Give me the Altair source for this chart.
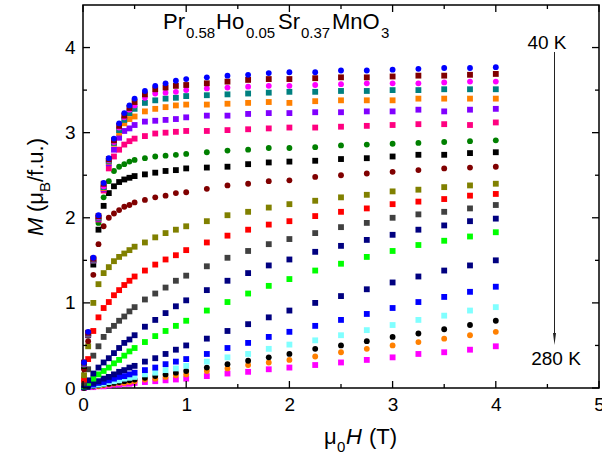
import altair as alt
import pandas as pd

# ---------------- data ----------------
H = [0.01, 0.05, 0.1, 0.15, 0.2, 0.25, 0.3, 0.35, 0.4, 0.45, 0.5, 0.6, 0.7, 0.8, 0.9, 1.0,
     1.2, 1.4, 1.6, 1.8, 2.0, 2.25, 2.5, 2.75, 3.0, 3.25, 3.5, 3.75, 4.0]

temps = ["40 K", "60 K", "80 K", "100 K", "110 K", "120 K", "130 K", "140 K", "150 K",
         "160 K", "170 K", "180 K", "190 K", "200 K", "210 K", "220 K", "230 K",
         "240 K", "250 K", "260 K", "280 K"]
colors = ["#0000FF", "#800000", "#FF00FF", "#008080", "#FF8000", "#8000FF", "#FF0080",
          "#008000", "#000000", "#800000", "#808000", "#FF0000", "#404040", "#000080",
          "#00FF00", "#000080", "#0000FF", "#80FFFF", "#000000", "#FF8000", "#FF00FF"]
shapes = ["circle", "square", "circle", "square", "square", "square", "square",
          "circle", "square", "circle", "square", "square", "square", "square",
          "square", "square", "square", "square", "circle", "circle", "square"]

M_040 = [0.30, 0.66, 1.53, 2.03, 2.41, 2.70, 2.93, 3.11, 3.23, 3.32, 3.40, 3.49, 3.55, 3.58, 3.61, 3.63, 3.65, 3.67, 3.68, 3.70, 3.71, 3.71, 3.73, 3.73, 3.74, 3.75, 3.76, 3.76, 3.77]
M_060 = [0.30, 0.65, 1.52, 2.02, 2.40, 2.69, 2.91, 3.08, 3.20, 3.29, 3.36, 3.45, 3.51, 3.53, 3.55, 3.56, 3.58, 3.60, 3.62, 3.63, 3.63, 3.64, 3.65, 3.65, 3.66, 3.67, 3.67, 3.68, 3.69]
M_080 = [0.30, 0.65, 1.52, 2.01, 2.37, 2.68, 2.89, 3.06, 3.18, 3.27, 3.32, 3.41, 3.46, 3.47, 3.48, 3.50, 3.52, 3.53, 3.54, 3.55, 3.55, 3.56, 3.57, 3.58, 3.58, 3.58, 3.59, 3.60, 3.60]
M_100 = [0.29, 0.64, 1.51, 2.00, 2.36, 2.67, 2.88, 3.03, 3.15, 3.23, 3.28, 3.35, 3.38, 3.40, 3.41, 3.43, 3.44, 3.45, 3.46, 3.47, 3.48, 3.48, 3.49, 3.49, 3.50, 3.50, 3.51, 3.51, 3.51]
M_110 = [0.29, 0.64, 1.51, 2.00, 2.35, 2.66, 2.87, 3.00, 3.11, 3.16, 3.19, 3.25, 3.28, 3.30, 3.32, 3.33, 3.33, 3.34, 3.35, 3.36, 3.35, 3.37, 3.38, 3.38, 3.38, 3.40, 3.40, 3.40, 3.40]
M_120 = [0.28, 0.63, 1.50, 1.99, 2.34, 2.64, 2.80, 2.94, 3.02, 3.05, 3.09, 3.13, 3.14, 3.15, 3.16, 3.18, 3.20, 3.20, 3.22, 3.23, 3.23, 3.24, 3.24, 3.25, 3.25, 3.27, 3.25, 3.27, 3.28]
M_130 = [0.28, 0.63, 1.50, 1.98, 2.32, 2.58, 2.72, 2.80, 2.86, 2.90, 2.93, 2.96, 2.99, 3.00, 3.01, 3.02, 3.02, 3.03, 3.04, 3.05, 3.06, 3.06, 3.07, 3.08, 3.09, 3.10, 3.10, 3.09, 3.12]
M_140 = [0.27, 0.62, 1.49, 1.94, 2.24, 2.43, 2.55, 2.60, 2.63, 2.66, 2.68, 2.70, 2.72, 2.73, 2.74, 2.75, 2.77, 2.79, 2.80, 2.82, 2.82, 2.83, 2.85, 2.86, 2.87, 2.88, 2.89, 2.90, 2.91]
M_150 = [0.26, 0.62, 1.45, 1.86, 2.14, 2.29, 2.37, 2.42, 2.45, 2.47, 2.49, 2.51, 2.53, 2.55, 2.56, 2.58, 2.59, 2.60, 2.63, 2.65, 2.66, 2.67, 2.69, 2.70, 2.72, 2.74, 2.74, 2.76, 2.77]
M_160 = [0.22, 0.55, 1.33, 1.69, 1.90, 2.00, 2.05, 2.09, 2.13, 2.15, 2.18, 2.21, 2.24, 2.26, 2.29, 2.30, 2.34, 2.38, 2.40, 2.43, 2.44, 2.48, 2.50, 2.52, 2.54, 2.56, 2.58, 2.59, 2.60]
M_170 = [0.15, 0.49, 1.00, 1.22, 1.35, 1.42, 1.49, 1.54, 1.58, 1.62, 1.66, 1.71, 1.77, 1.82, 1.86, 1.90, 1.96, 2.03, 2.07, 2.12, 2.16, 2.20, 2.24, 2.27, 2.31, 2.33, 2.36, 2.38, 2.40]
M_180 = [0.10, 0.34, 0.67, 0.83, 0.94, 1.01, 1.09, 1.15, 1.21, 1.26, 1.31, 1.38, 1.45, 1.51, 1.56, 1.62, 1.71, 1.79, 1.86, 1.92, 1.96, 2.02, 2.07, 2.11, 2.16, 2.19, 2.22, 2.26, 2.28]
M_190 = [0.06, 0.22, 0.38, 0.49, 0.60, 0.68, 0.73, 0.79, 0.84, 0.90, 0.95, 1.04, 1.11, 1.18, 1.26, 1.32, 1.43, 1.53, 1.61, 1.69, 1.75, 1.82, 1.89, 1.94, 2.00, 2.04, 2.07, 2.11, 2.15]
M_200 = [0.03, 0.09, 0.17, 0.24, 0.30, 0.35, 0.41, 0.47, 0.53, 0.57, 0.62, 0.72, 0.80, 0.88, 0.96, 1.03, 1.15, 1.26, 1.35, 1.44, 1.51, 1.60, 1.67, 1.74, 1.80, 1.86, 1.91, 1.96, 1.99]
M_210 = [0.02, 0.06, 0.11, 0.16, 0.20, 0.24, 0.29, 0.33, 0.38, 0.43, 0.47, 0.54, 0.61, 0.67, 0.73, 0.79, 0.91, 1.01, 1.11, 1.20, 1.28, 1.38, 1.46, 1.54, 1.61, 1.68, 1.73, 1.78, 1.83]
M_220 = [0.01, 0.03, 0.06, 0.08, 0.11, 0.13, 0.16, 0.19, 0.21, 0.24, 0.26, 0.31, 0.35, 0.40, 0.45, 0.50, 0.58, 0.67, 0.75, 0.83, 0.91, 1.00, 1.08, 1.16, 1.24, 1.31, 1.38, 1.44, 1.50]
M_230 = [0.01, 0.02, 0.04, 0.06, 0.07, 0.09, 0.11, 0.13, 0.14, 0.16, 0.18, 0.21, 0.24, 0.28, 0.31, 0.34, 0.40, 0.47, 0.53, 0.60, 0.66, 0.73, 0.80, 0.87, 0.94, 1.01, 1.07, 1.13, 1.19]
M_240 = [0.01, 0.02, 0.03, 0.04, 0.05, 0.07, 0.08, 0.09, 0.11, 0.12, 0.13, 0.16, 0.18, 0.21, 0.23, 0.26, 0.31, 0.36, 0.40, 0.46, 0.51, 0.56, 0.62, 0.68, 0.74, 0.80, 0.85, 0.91, 0.95]
M_250 = [0.00, 0.01, 0.02, 0.03, 0.04, 0.05, 0.06, 0.07, 0.08, 0.09, 0.10, 0.12, 0.14, 0.16, 0.18, 0.20, 0.24, 0.28, 0.32, 0.36, 0.40, 0.46, 0.50, 0.55, 0.60, 0.64, 0.69, 0.74, 0.79]
M_260 = [0.00, 0.01, 0.02, 0.02, 0.03, 0.04, 0.05, 0.06, 0.06, 0.07, 0.08, 0.10, 0.11, 0.13, 0.15, 0.16, 0.20, 0.23, 0.27, 0.30, 0.33, 0.37, 0.42, 0.46, 0.50, 0.54, 0.58, 0.62, 0.66]
M_280 = [0.00, 0.01, 0.01, 0.02, 0.02, 0.03, 0.04, 0.04, 0.05, 0.05, 0.06, 0.07, 0.08, 0.09, 0.10, 0.11, 0.14, 0.17, 0.19, 0.22, 0.24, 0.27, 0.30, 0.33, 0.36, 0.40, 0.42, 0.45, 0.49]

series = [M_040, M_060, M_080, M_100, M_110, M_120, M_130, M_140, M_150, M_160, M_170,
          M_180, M_190, M_200, M_210, M_220, M_230, M_240, M_250, M_260, M_280]

x_major = [0, 1, 2, 3, 4, 5]
x_minor = [0.5, 1.5, 2.5, 3.5, 4.5]
y_major = [0, 1, 2, 3, 4]
y_minor = [0.5, 1.5, 2.5, 3.5]

# ---------------- build table (high T first so 40 K is drawn on top) ----------------
rows = []
for t, vals in reversed(list(zip(temps, series))):
    for h, m in zip(H, vals):
        rows.append({"H": h, "M": m, "T": t})
df = pd.DataFrame(rows)

FONT = "Liberation Sans"
W, HGT = 516, 383
OX, OY = 83, 5

xscale = alt.Scale(domain=[0, 5], nice=False, zero=False)
yscale = alt.Scale(domain=[0, 4.5], nice=False, zero=False)
xaxis = alt.Axis(values=x_major, format="d", ticks=False, domain=False, grid=False,
                 labelFontSize=19, labelFont=FONT, labelColor="black", labelPadding=7,
                 labelFlush=False, labelOverlap=False, title=None)
yaxis = alt.Axis(values=y_major, format="d", ticks=False, domain=False, grid=False,
                 labelFontSize=19, labelFont=FONT, labelColor="black", labelPadding=8,
                 labelFlush=False, labelOverlap=False, title=None)

points = alt.Chart(df).mark_point(filled=True, opacity=1, size=34, strokeWidth=0).encode(
    x=alt.X("H:Q", scale=xscale, axis=xaxis),
    y=alt.Y("M:Q", scale=yscale, axis=yaxis),
    color=alt.Color("T:N", scale=alt.Scale(domain=temps, range=colors), legend=None),
    shape=alt.Shape("T:N", scale=alt.Scale(domain=temps, range=shapes), legend=None),
)

layers = [points]

# inward ticks on all four sides
def xticks(vals, length):
    d = pd.DataFrame({"v": vals})
    base = alt.Chart(d).mark_rule(color="black", strokeWidth=1.3)
    bot = base.encode(x=alt.X("v:Q", scale=xscale, axis=xaxis), y=alt.value(HGT), y2=alt.value(HGT - length))
    top = base.encode(x=alt.X("v:Q", scale=xscale, axis=xaxis), y=alt.value(0), y2=alt.value(length))
    return [bot, top]

def yticks(vals, length):
    d = pd.DataFrame({"v": vals})
    base = alt.Chart(d).mark_rule(color="black", strokeWidth=1.3)
    left = base.encode(y=alt.Y("v:Q", scale=yscale, axis=yaxis), x=alt.value(0), x2=alt.value(length))
    right = base.encode(y=alt.Y("v:Q", scale=yscale, axis=yaxis), x=alt.value(W), x2=alt.value(W - length))
    return [left, right]

layers += xticks(x_major, 7) + xticks(x_minor, 4) + yticks(y_major, 7) + yticks(y_minor, 4)

# text pieces (absolute page coordinates converted to plot coordinates)
one = pd.DataFrame({"k": [0]})

def txt(s, x, y, size, italic=False, angle=0, align="left"):
    kw = dict(text=s, align=align, baseline="alphabetic", fontSize=size, font=FONT, color="black")
    if italic:
        kw["fontStyle"] = "italic"
    if angle:
        kw["angle"] = angle
    return alt.Chart(one).mark_text(**kw).encode(x=alt.value(x - OX), y=alt.value(y - OY))

# formula title
layers += [
    txt("Pr", 163, 28.5, 22), txt("0.58", 186, 38, 15),
    txt("Ho", 216, 28.5, 22), txt("0.05", 246, 38, 15),
    txt("Sr", 278, 28.5, 22), txt("0.37", 301, 38, 15),
    txt("MnO", 332, 28.5, 22), txt("3", 381, 38, 15),
]
# x-axis title
layers += [
    txt("\u03bc", 324, 443.5, 22), txt("0", 337, 452, 15),
    txt("H", 346, 443.5, 22, italic=True), txt("(T)", 369, 443.5, 22),
]
# y-axis title (rotated)
layers += [
    txt("M", 43, 236, 22, italic=True, angle=270),
    txt("(\u03bc", 43, 212, 22, angle=270),
    txt("B", 50, 192, 15, angle=270),
    txt("/f.u.)", 43, 182, 22, angle=270),
]
# temperature annotation with arrow
layers += [
    txt("40 K", 547, 49, 19, align="center"),
    txt("280 K", 556, 365, 19, align="center"),
    alt.Chart(one).mark_rule(color="#222222", strokeWidth=1).encode(
        x=alt.value(554.5 - OX), y=alt.value(52 - OY), y2=alt.value(338 - OY)),
    alt.Chart(one).mark_point(shape="M-0.25,-1 L0.25,-1 L0,1 Z", filled=True, size=144,
                              color="#222222", opacity=1).encode(
        x=alt.value(554.5 - OX), y=alt.value(339 - OY)),
]

chart = alt.layer(*layers).properties(
    width=W, height=HGT,
    autosize=alt.AutoSizeParams(type="none"),
    padding={"left": OX, "top": OY, "right": 602 - OX - W, "bottom": 457 - OY - HGT},
    background="white",
).configure_view(stroke="black", strokeWidth=1.5)

chart.save("out.html", embed_options={"renderer": "svg", "actions": False})
